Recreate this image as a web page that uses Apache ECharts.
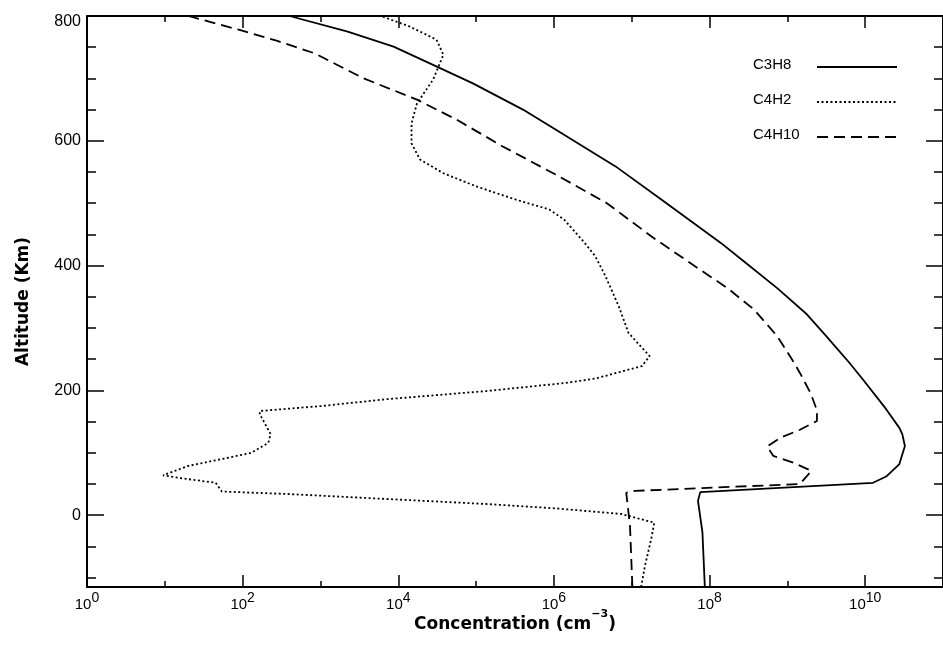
<!DOCTYPE html>
<html><head><meta charset="utf-8">
<script src="https://cdn.jsdelivr.net/npm/echarts@6/dist/echarts.min.js"></script>
<style>html,body{margin:0;padding:0;background:#fff}#c{width:943px;height:657px}</style>
</head><body><div id="c"></div>
<script>
// ---- data (concentration in cm^-3, altitude in km) ----
const seriesNames = ['C3H8', 'C4H2', 'C4H10'];

const altC3H8  = [-115, -27, 23, 37, 52, 62, 82, 111, 130, 140, 170, 218, 244, 287, 322, 364, 407, 436, 506, 559, 618, 650, 692, 716, 751, 775, 800];
const concC3H8 = [8.7e7, 8.1e7, 7.1e7, 7.6e7, 1.26e10, 1.86e10, 2.75e10, 3.24e10, 3.0e10, 2.75e10, 1.86e10, 9.3e9, 6.3e9, 3.16e9, 1.78e9, 7.4e8, 2.75e8, 1.41e8, 2.4e7, 6.2e6, 1.05e6, 4.0e5, 9.1e4, 3.5e4, 8.7e3, 2.24e3, 4.0e2];

const altC4H2  = [-115, -81, -38, -12, 2, 11, 18, 26, 34, 38, 52, 59, 64, 79, 90, 100, 116, 130, 162, 167, 175, 186, 199, 212, 219, 239, 255, 292, 335, 383, 415, 436, 474, 490, 506, 527, 548, 570, 596, 628, 660, 698, 738, 762, 783, 800];
const concC4H2 = [1.32e7, 1.48e7, 1.78e7, 1.95e7, 7.4e6, 1.05e6, 1.35e5, 7.2e3, 3.8e2, 54, 45, 17, 9.5, 20, 54, 129, 214, 229, 166, 166, 1.02e3, 7.2e3, 1.35e5, 1.41e6, 3.4e6, 1.35e7, 1.7e7, 9.1e6, 6.8e6, 4.6e6, 3.4e6, 2.5e6, 1.35e6, 8.7e5, 3.2e5, 1.0e5, 3.8e4, 1.9e4, 1.48e4, 1.48e4, 1.74e4, 2.8e4, 3.8e4, 3.1e4, 1.41e4, 6.0e3];

const altC4H10  = [-115, -17, 36, 39, 50, 71, 84, 95, 110, 124, 137, 151, 168, 195, 228, 248, 287, 330, 364, 399, 447, 500, 546, 591, 634, 666, 700, 740, 760, 778, 800];
const concC4H10 = [1.02e7, 9.5e6, 8.5e6, 1.1e7, 1.45e9, 2.04e9, 1.2e9, 6.6e8, 5.5e8, 8.1e8, 1.45e9, 2.4e9, 2.4e9, 2.0e9, 1.45e9, 1.17e9, 7.4e8, 3.7e8, 1.7e8, 6.5e7, 1.78e7, 4.8e6, 1.05e6, 2.2e5, 5.6e4, 1.74e4, 3.6e3, 8.5e2, 2.8e2, 89, 20];

// ---- axes ----
const xMin = 1, xMax = 1e11;
const xLabelTicks = [1, 1e2, 1e4, 1e6, 1e8, 1e10];
const xAllTicks = [1, 1e1, 1e2, 1e3, 1e4, 1e5, 1e6, 1e7, 1e8, 1e9, 1e10, 1e11];
const yMin = -115, yMax = 800;
const yLabelTicks = [0, 200, 400, 600, 800];
const yAllTicks = [-100, -50, 0, 50, 100, 150, 200, 250, 300, 350, 400, 450, 500, 550, 600, 650, 700, 750, 800];

const xTitle = 'Concentration (cm';
const xTitleSup = '\u22123';
const yTitle = 'Altitude (Km)';

const chart = echarts.init(document.getElementById('c'), null, {renderer: 'canvas'});
const black = '#000';
const tickFont = 'Liberation Sans';
const titleFont = 'DejaVu Sans';

function pairs(xs, ys) { return xs.map((v, i) => [v, ys[i]]); }

function xAxisDef(pos, showLine, showLabel, ticks, len) {
  return {
    type: 'log', logBase: 10, min: xMin, max: xMax, position: pos,
    axisLine: {show: showLine, onZero: false, lineStyle: {color: black, width: 2}},
    axisTick: {show: true, inside: true, length: len, customValues: ticks, lineStyle: {color: black, width: 1.5}},
    axisLabel: showLabel ? {
      show: true, customValues: xLabelTicks, margin: 4,
      formatter: function (v) { return '{b|10}{s|' + Math.round(Math.log10(v)) + '}'; },
      rich: {
        b: {fontFamily: tickFont, fontSize: 15, color: black, verticalAlign: 'bottom', lineHeight: 21},
        s: {fontFamily: tickFont, fontSize: 14, color: black, verticalAlign: 'top', lineHeight: 14}
      }
    } : {show: false},
    splitLine: {show: false}, minorTick: {show: false}
  };
}
function yAxisDef(pos, showLine, showLabel, ticks, len) {
  return {
    type: 'value', min: yMin, max: yMax, position: pos,
    axisLine: {show: showLine, onZero: false, lineStyle: {color: black, width: 2}},
    axisTick: {show: true, inside: true, length: len, customValues: ticks, lineStyle: {color: black, width: 1.5}},
    axisLabel: showLabel ? {
      show: true, customValues: yLabelTicks, margin: 6,
      formatter: function (v) { return v === yMax ? '{m|' + v + '}' : '{n|' + v + '}'; },
      rich: {
        n: {fontFamily: tickFont, fontSize: 16, color: black},
        m: {fontFamily: tickFont, fontSize: 16, color: black, padding: [11, 0, 0, 0]}
      }
    } : {show: false},
    splitLine: {show: false}
  };
}

const xAxes = [
  xAxisDef('bottom', true, true, xLabelTicks, 12),
  xAxisDef('bottom', false, false, xAllTicks, 6),
  xAxisDef('top', true, false, xLabelTicks, 12),
  xAxisDef('top', false, false, xAllTicks, 6)
];
xAxes[0].name = '{t|' + xTitle + '}{s|' + xTitleSup + '}{t|)}';
xAxes[0].nameLocation = 'middle';
xAxes[0].nameGap = 22;
xAxes[0].nameMoveOverlap = false;
xAxes[0].nameTextStyle = {
  rich: {
    t: {fontFamily: titleFont, fontWeight: 'bold', fontSize: 17, color: black, verticalAlign: 'bottom', lineHeight: 24},
    s: {fontFamily: titleFont, fontWeight: 'bold', fontSize: 11, color: black, verticalAlign: 'top', lineHeight: 11}
  }
};

const yAxes = [
  yAxisDef('left', true, true, yLabelTicks, 17),
  yAxisDef('left', false, false, yAllTicks, 9),
  yAxisDef('right', true, false, yLabelTicks, 17),
  yAxisDef('right', false, false, yAllTicks, 9)
];
yAxes[0].name = yTitle;
yAxes[0].nameLocation = 'middle';
yAxes[0].nameGap = 55;
yAxes[0].nameMoveOverlap = false;
yAxes[0].nameTextStyle = {fontFamily: titleFont, fontWeight: 'bold', fontSize: 17, color: black};

function lineSeries(name, xs, ys, type) {
  return {
    name: name, type: 'line', xAxisIndex: 0, yAxisIndex: 0,
    data: pairs(xs, ys), symbol: 'none', showSymbol: false, smooth: false,
    lineStyle: {color: black, width: 1.8, type: type},
    itemStyle: {color: black},
    emphasis: {disabled: true}
  };
}

chart.setOption({
  animation: false,
  backgroundColor: '#fff',
  grid: {left: 87, right: -7, top: 16, bottom: 70, containLabel: false},
  legend: {
    orient: 'vertical', left: 753, top: 57, padding: 0, align: 'right',
    itemWidth: 80, itemHeight: 14, itemGap: 15,
    data: seriesNames,
    itemStyle: {opacity: 0, borderWidth: 0},
    formatter: function (n) { return '{n|' + n + '}'; },
    textStyle: {
      color: black,
      rich: {n: {fontFamily: tickFont, fontSize: 15, color: black, width: 59, align: 'left', lineHeight: 14, padding: [0, 0, 5, 0]}}
    }
  },
  xAxis: xAxes,
  yAxis: yAxes,
  series: [
    lineSeries('C3H8', concC3H8, altC3H8, 'solid'),
    lineSeries('C4H2', concC4H2, altC4H2, [2, 2.5]),
    lineSeries('C4H10', concC4H10, altC4H10, [11, 6])
  ]
});
</script></body></html>
